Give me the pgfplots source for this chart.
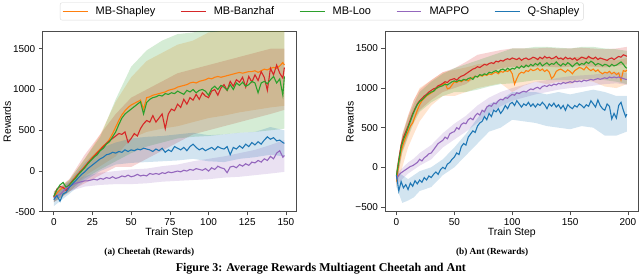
\documentclass[border=0pt]{standalone}
\usepackage{pgfplots}
\pgfplotsset{compat=1.18}
\usepackage{pgfplotstable}
\usepgfplotslibrary{fillbetween}
\usepackage{fontspec}
\setmainfont{Liberation Sans}
\newfontfamily\capfont{Liberation Serif}
\definecolor{cO}{HTML}{FF7F0E}
\definecolor{cR}{HTML}{D62728}
\definecolor{cG}{HTML}{2CA02C}
\definecolor{cP}{HTML}{9467BD}
\definecolor{cB}{HTML}{1F77B4}

\pgfplotstableread{
x sh bz loo mp qs
0 -320 -320 -310 -330 -350
2 -270 -220 -230 -300 -300
4 -230 -190 -170 -290 -370
6 -200 -200 -140 -250 -280
8 -220 -240 -200 -210 -260
10 -170 -170 -170 -190 -200
12 -120 -120 -130 -170 -160
14 -70 -80 -90 -150 -120
16 -30 -30 -40 -140 -80
18 10 10 0 -130 -40
20 60 50 40 -120 -10
22 100 100 90 -120 30
24 150 140 130 -110 60
26 190 180 170 -100 90
28 230 220 200 -110 120
30 270 260 250 -90 150
32 310 300 280 -100 170
34 340 340 330 -80 200
36 390 370 360 -90 210
38 460 400 420 -70 230
40 540 430 480 -90 220
42 620 460 570 -80 240
44 690 450 650 -60 230
46 740 480 700 -70 260
48 780 350 730 -50 240
50 810 400 760 -70 260
52 830 460 790 -60 250
54 850 430 820 -40 270
56 870 520 850 -60 260
58 760 580 700 -50 280
60 900 620 840 -60 270
62 910 600 880 -30 260
64 930 680 900 -40 240
66 940 600 910 -30 270
68 950 650 930 -40 250
70 960 700 920 -20 280
72 970 520 950 -30 230
74 990 700 940 -10 260
76 1000 760 960 -20 240
78 1010 740 950 -10 300
80 1030 820 980 0 280
82 1040 780 960 -10 260
84 1050 880 940 10 290
86 1060 820 990 0 250
88 1080 900 970 20 300
90 1090 870 1000 10 330
92 1080 940 960 30 290
94 1100 880 990 20 260
96 1110 960 1000 10 280
98 1120 920 980 30 250
100 1140 900 930 0 270
102 1130 980 1010 40 290
104 1150 1000 1040 20 260
106 1160 930 1000 60 300
108 1150 1020 1050 40 280
110 1160 1060 1030 30 270
112 1170 990 990 -20 300
114 1180 1100 1060 50 200
116 1190 1040 1000 60 290
118 1200 1120 1080 40 270
120 1210 1090 1050 80 310
122 1200 1150 1090 60 280
124 1210 1030 1040 90 330
126 1220 1160 1060 70 300
128 1220 1090 1100 110 350
130 1230 1180 1080 100 320
132 1210 1110 960 130 360
134 1230 1220 1080 110 330
136 1250 1150 1100 150 380
138 1240 990 1070 130 420
140 1260 1260 1120 180 390
142 1270 1180 1160 150 410
144 1260 1300 1080 220 370
146 1290 1200 1130 250 380
148 1330 1140 930 170 350
149 1300 1270 1160 190 340
}\cheetah

\pgfplotstableread{
x shu shl bzu bzl loou lool mpu mpl qsu qsl
0 -270 -380 -250 -380 -250 -380 -280 -380 -280 -430
10 -110 -260 -100 -250 -110 -250 -140 -250 -130 -280
20 150 -60 200 -150 150 -90 -60 -190 100 -120
30 450 60 450 -50 420 20 -20 -170 280 0
40 850 180 700 50 880 120 0 -160 350 80
50 1150 400 900 50 1280 220 20 -160 400 100
60 1350 480 1000 150 1480 300 30 -150 420 110
70 1450 520 1100 250 1600 350 60 -130 430 120
80 1550 550 1200 350 1680 400 80 -120 450 130
90 1600 600 1250 450 1700 420 120 -110 470 150
100 1700 650 1300 500 1750 430 150 -100 440 120
110 1720 680 1350 550 1750 450 180 -80 450 110
120 1750 720 1400 600 1750 470 220 -70 470 150
130 1750 750 1450 650 1750 480 260 -50 480 170
140 1750 780 1500 700 1750 500 320 -30 540 200
149 1750 800 1500 750 1750 520 380 -10 500 180
}\cheetahband

\pgfplotstableread{
x sh bz loo mp qs
0 -180 -120 -100 -150 -100
2 50 100 80 -100 -300
4 200 280 250 -70 -180
6 300 380 350 -50 -260
8 380 450 420 -30 -220
10 450 520 500 -10 -280
12 520 600 580 10 -200
14 560 680 660 20 -240
16 640 740 730 40 -170
18 720 800 790 60 -210
20 790 840 830 100 -160
22 840 870 850 80 -190
24 870 900 880 120 -130
26 900 920 910 140 -160
28 920 950 930 170 -110
30 940 970 950 180 -130
32 960 990 960 220 -90
34 990 1000 990 260 -60
36 1010 1030 1010 300 -90
38 1030 1040 1020 320 -30
40 1050 1060 1030 340 0
42 1060 1080 1050 380 -20
44 990 1070 1040 360 40
46 1000 1100 1060 420 60
48 1040 1110 1080 440 100
50 1080 1120 1090 450 130
52 1070 1100 1080 500 180
54 1090 1130 1100 480 160
56 1080 1150 1090 540 260
58 1100 1160 1110 560 300
60 1110 1180 1100 550 280
62 1090 1200 1120 600 380
64 1120 1220 1130 620 420
66 1130 1240 1110 600 460
68 1150 1250 1150 650 440
70 1140 1270 1140 680 520
72 1160 1260 1170 660 560
74 1150 1280 1160 720 580
76 1170 1300 1180 700 640
78 1160 1290 1170 760 600
80 1180 1310 1200 780 680
82 1170 1320 1190 770 640
84 1190 1310 1210 810 720
86 1200 1340 1220 800 700
88 1180 1330 1200 840 740
90 1210 1350 1230 860 680
92 1200 1340 1240 850 720
94 1220 1360 1220 880 780
96 1210 1370 1250 870 740
98 1230 1360 1230 900 800
100 1180 1380 1250 920 820
102 1050 1370 1240 910 780
104 1120 1360 1270 940 840
106 1180 1380 1250 930 800
108 1200 1350 1280 950 760
110 1190 1370 1260 960 800
112 1220 1380 1290 950 780
114 1210 1360 1270 970 820
116 1240 1370 1300 990 770
118 1220 1390 1280 980 800
120 1230 1380 1310 1000 760
122 1250 1360 1290 1010 800
124 1220 1390 1320 990 780
126 1240 1370 1280 1020 820
128 1210 1400 1300 1030 790
130 1230 1380 1320 1020 740
132 1200 1390 1290 1040 800
134 1120 1370 1310 1030 770
136 1150 1380 1300 1050 810
138 1210 1400 1330 1040 760
140 1230 1370 1300 1060 790
142 1240 1380 1280 1050 740
144 1220 1360 1310 1070 780
146 1200 1390 1290 1060 720
148 1230 1370 1320 1070 790
150 1210 1380 1300 1080 760
152 1180 1360 1270 1070 740
154 1220 1380 1300 1090 780
156 1240 1350 1320 1080 760
158 1260 1370 1290 1090 800
160 1250 1390 1310 1080 780
162 1230 1380 1300 1100 750
164 1270 1370 1330 1090 790
166 1240 1400 1310 1100 770
168 1220 1380 1340 1110 840
170 1240 1370 1320 1100 800
172 1210 1390 1290 1110 760
174 1230 1360 1310 1120 850
176 1200 1380 1300 1110 780
178 1180 1370 1280 1120 740
180 1200 1360 1300 1130 720
182 1190 1350 1290 1120 800
184 1210 1370 1270 1140 770
186 1180 1380 1300 1130 610
188 1200 1360 1280 1140 680
190 1170 1380 1290 1130 620
192 1190 1400 1310 1140 780
194 1100 1390 1330 1130 820
196 1220 1420 1300 1120 720
198 1210 1410 1260 1110 640
199 1230 1400 1250 1110 670
}\ant

\pgfplotstableread{
x shu shl bzu bzl loou lool mpu mpl qsu qsl
0 0 -250 -50 -200 -30 -200 -80 -220 -50 -250
5 400 0 420 200 400 180 -10 -150 -100 -450
10 650 250 650 400 620 380 60 -80 -150 -420
15 850 420 850 600 800 560 110 -30 -100 -380
20 1000 580 980 720 950 700 180 20 -50 -300
30 1100 780 1100 850 1080 820 280 100 0 -250
40 1200 900 1200 950 1180 900 430 250 100 -100
50 1230 900 1250 1000 1250 950 550 350 250 0
60 1260 950 1330 1050 1300 950 650 450 420 150
70 1300 1000 1420 1150 1350 980 780 560 620 300
80 1320 1030 1450 1200 1400 1020 880 680 800 450
90 1350 1060 1480 1250 1450 1050 950 770 850 500
100 1380 950 1500 1270 1500 1060 1000 840 950 600
110 1360 1030 1500 1260 1500 1080 1040 880 950 580
120 1380 1080 1500 1270 1520 1100 1080 920 950 560
130 1380 1050 1510 1270 1520 1100 1100 950 920 520
140 1380 1080 1500 1260 1510 1100 1130 980 950 500
150 1380 1050 1500 1270 1500 1100 1150 1000 920 480
160 1400 1100 1510 1280 1520 1110 1160 1010 950 520
170 1390 1080 1500 1270 1520 1120 1170 1030 980 500
180 1360 1020 1490 1260 1500 1100 1190 1050 950 400
190 1350 1000 1500 1280 1490 1080 1200 1060 900 400
199 1380 1050 1520 1300 1470 1050 1190 1040 900 450
}\antband

% #1 table, #2 column stem, #3 colour, #4 unique name
\newcommand{\band}[4]{%
  \addplot[draw=none, forget plot, name path=#4u] table[x=x, y=#2u] {#1};
  \addplot[draw=none, forget plot, name path=#4l] table[x=x, y=#2l] {#1};
  \addplot[fill=#3, fill opacity=0.2, draw=none, forget plot] fill between[of=#4u and #4l];
}

\pgfplotsset{
  legO/.style={legend image code/.code={\draw[draw=cO, line width=1.1pt] (0pt,0pt) -- (25pt,0pt);}},
  legR/.style={legend image code/.code={\draw[draw=cR, line width=1.1pt] (0pt,0pt) -- (25pt,0pt);}},
  legG/.style={legend image code/.code={\draw[draw=cG, line width=1.1pt] (0pt,0pt) -- (25pt,0pt);}},
  legP/.style={legend image code/.code={\draw[draw=cP, line width=1.1pt] (0pt,0pt) -- (25pt,0pt);}},
  legB/.style={legend image code/.code={\draw[draw=cB, line width=1.1pt] (0pt,0pt) -- (25pt,0pt);}},
}

\pgfplotsset{myax/.style={
  scale only axis, height=180.7pt,
  axis line style={black!70, line width=0.8pt},
  tick align=outside, xtick pos=bottom, ytick pos=left,
  tick style={black!70, line width=0.7pt}, major tick length=3.5pt,
  ticklabel style={font=\fontsize{10}{12}\selectfont},
  /pgf/number format/assume math mode=true,
  every axis plot/.append style={line width=1.1pt},
}}

\begin{document}
\begin{tikzpicture}
\path (0,0) rectangle (640pt,274pt);
\begin{axis}[myax, at={(40.7pt,61.6pt)}, anchor=south west, width=254.3pt,
  xmin=-7.45, xmax=156.45, ymin=-500, ymax=1710,
  xtick={0,25,50,75,100,125,150},
  ytick={-500,0,500,1000,1500}, yticklabels={-500,0,500,1000,1500},
  legend columns=5,
  legend style={at={(1.102,1.112)}, anchor=center, draw=black!15, rounded corners=2pt,
    font=\fontsize{11}{13}\selectfont, inner sep=2pt,
    /tikz/every odd column/.append style={column sep=5.5pt},
    /tikz/every even column/.append style={column sep=23pt}},
]
\band{\cheetahband}{sh}{cO}{aO}
\band{\cheetahband}{bz}{cR}{aR}
\band{\cheetahband}{loo}{cG}{aG}
\band{\cheetahband}{mp}{cP}{aP}
\band{\cheetahband}{qs}{cB}{aB}
\addplot[color=cO, legO] table[x=x, y=sh] {\cheetah};
\addlegendentry{MB-Shapley}
\addplot[color=cR, legR] table[x=x, y=bz] {\cheetah};
\addlegendentry{MB-Banzhaf}
\addplot[color=cG, legG] table[x=x, y=loo] {\cheetah};
\addlegendentry{MB-Loo}
\addplot[color=cP, legP] table[x=x, y=mp] {\cheetah};
\addlegendentry{MAPPO}
\addplot[color=cB, legB] table[x=x, y=qs] {\cheetah};
\addlegendentry{Q-Shapley}
\end{axis}

\begin{axis}[myax, at={(384.3pt,61.6pt)}, anchor=south west, width=254pt,
  xmin=-9.95, xmax=208.95, ymin=-563, ymax=1713,
  xtick={0,50,100,150,200},
  ytick={-500,0,500,1000,1500}, yticklabels={−500,0,500,1000,1500},
]
\band{\antband}{sh}{cO}{bO}
\band{\antband}{bz}{cR}{bR}
\band{\antband}{loo}{cG}{bG}
\band{\antband}{mp}{cP}{bP}
\band{\antband}{qs}{cB}{bB}
\addplot[color=cO] table[x=x, y=sh] {\ant};
\addplot[color=cR] table[x=x, y=bz] {\ant};
\addplot[color=cG] table[x=x, y=loo] {\ant};
\addplot[color=cP] table[x=x, y=mp] {\ant};
\addplot[color=cB] table[x=x, y=qs] {\ant};
\end{axis}

\node[font=\fontsize{10.5}{12}\selectfont] at (168pt,41pt) {Train Step};
\node[font=\fontsize{10.5}{12}\selectfont] at (511.5pt,41pt) {Train Step};
\node[font=\fontsize{10.5}{12}\selectfont, rotate=90] at (5.5pt,152pt) {Rewards};
\node[font=\fontsize{10.5}{12}\selectfont, rotate=90] at (349pt,152pt) {Rewards};

\node[font=\capfont\bfseries\fontsize{9.3}{11}\selectfont] at (148pt,21pt) {(a) Cheetah (Rewards)};
\node[font=\capfont\bfseries\fontsize{9.3}{11}\selectfont] at (491.7pt,21pt) {(b) Ant (Rewards)};
\node[font=\capfont\bfseries\fontsize{12}{14}\selectfont] at (320pt,5pt) {Figure 3: Average Rewards Multiagent Cheetah and Ant};
\end{tikzpicture}
\end{document}
